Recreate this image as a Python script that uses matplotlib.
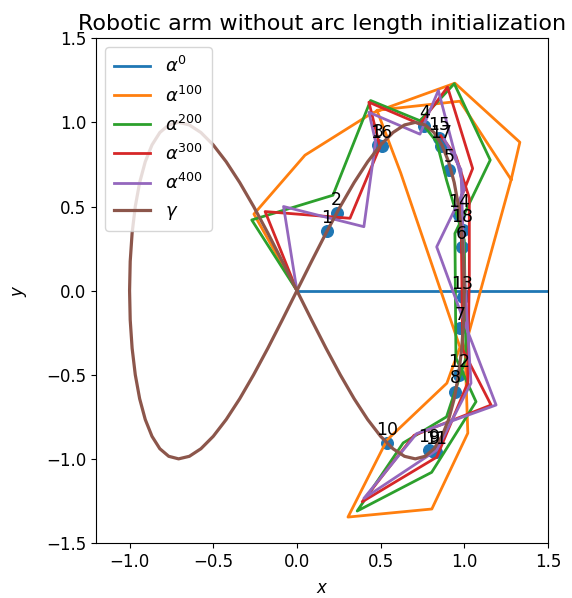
import matplotlib
matplotlib.use("Agg")
import matplotlib.pyplot as plt

# arm iterates (joint positions)
a0_x = [0.0, 2.0]
a0_y = [0.0, 0.0]

a100_x = [0.0, -0.257, 0.048, 0.448, 0.944, 1.332, 1.28, 1.004, 1.021, 0.806, 0.305, 0.538, 0.896, 0.974, 0.62, 0.478, 0.974, 1.28]
a100_y = [0.0, 0.455, 0.805, 1.055, 1.233, 0.882, 0.66, -0.336, -0.847, -1.298, -1.346, -0.888, -0.55, -0.336, 0.70, 1.072, 1.126, 0.66]

a200_x = [0.0, -0.27, 0.215, 0.44, 0.735, 0.94, 1.155, 0.944, 0.95, 1.07, 0.805, 0.36, 0.635, 0.894, 1.01, 1.0, 0.894, 0.835, 0.735]
a200_y = [0.0, 0.42, 0.567, 1.13, 1.01, 1.23, 0.776, 0.34, -0.40, -0.66, -1.08, -1.31, -0.905, -0.75, -0.40, 0.30, 0.656, 0.884, 1.01]

a300_x = [0.0, -0.19, 0.317, 0.496, 0.43, 0.735, 0.90, 1.05, 0.98, 0.99, 1.16, 0.70, 0.39, 0.835, 1.02, 1.03, 1.03, 0.95, 0.86]
a300_y = [0.0, 0.47, 0.43, 0.855, 1.12, 0.99, 1.21, 0.726, 0.55, -0.35, -0.68, -0.86, -1.255, -0.99, -0.55, 0.10, 0.55, 0.80, 0.92]

a400_x = [0.0, -0.08, 0.40, 0.47, 0.43, 0.735, 0.845, 1.0, 0.835, 1.01, 1.19, 0.715, 0.40, 0.835, 1.04, 1.0, 0.98, 0.88]
a400_y = [0.0, 0.50, 0.38, 0.885, 1.06, 0.93, 1.19, 0.60, 0.26, -0.215, -0.68, -0.85, -1.235, -0.948, -0.55, 0.10, 0.72, 0.90]

# target curve gamma (figure eight), sampled every 5 degrees
gamma_x = [1.0, 0.9962, 0.9848, 0.9659, 0.9397, 0.9063, 0.866, 0.8192, 0.766, 0.7071, 0.6428, 0.5736,
           0.5, 0.4226, 0.342, 0.2588, 0.1736, 0.0872,
           0.0, -0.0872, -0.1736, -0.2588, -0.342, -0.4226, -0.5, -0.5736, -0.6428, -0.7071, -0.766, -0.8192,
           -0.866, -0.9063, -0.9397, -0.9659, -0.9848, -0.9962,
           -1.0, -0.9962, -0.9848, -0.9659, -0.9397, -0.9063, -0.866, -0.8192, -0.766, -0.7071, -0.6428, -0.5736,
           -0.5, -0.4226, -0.342, -0.2588, -0.1736, -0.0872,
           0.0, 0.0872, 0.1736, 0.2588, 0.342, 0.4226, 0.5, 0.5736, 0.6428, 0.7071, 0.766, 0.8192,
           0.866, 0.9063, 0.9397, 0.9659, 0.9848, 0.9962, 1.0]
gamma_y = [0.0, 0.1736, 0.342, 0.5, 0.6428, 0.766, 0.866, 0.9397, 0.9848, 1.0, 0.9848, 0.9397,
           0.866, 0.766, 0.6428, 0.5, 0.342, 0.1736,
           0.0, -0.1736, -0.342, -0.5, -0.6428, -0.766, -0.866, -0.9397, -0.9848, -1.0, -0.9848, -0.9397,
           -0.866, -0.766, -0.6428, -0.5, -0.342, -0.1736,
           0.0, 0.1736, 0.342, 0.5, 0.6428, 0.766, 0.866, 0.9397, 0.9848, 1.0, 0.9848, 0.9397,
           0.866, 0.766, 0.6428, 0.5, 0.342, 0.1736,
           0.0, -0.1736, -0.342, -0.5, -0.6428, -0.766, -0.866, -0.9397, -0.9848, -1.0, -0.9848, -0.9397,
           -0.866, -0.766, -0.6428, -0.5, -0.342, -0.1736, 0.0]

# numbered target points
pt_labels = [str(i) for i in range(1, 20)]
pt_x = [0.18, 0.237, 0.484, 0.76, 0.91, 0.984, 0.974, 0.944, 0.82, 0.54, 0.83, 0.97, 0.99, 0.97, 0.85, 0.506, 0.863, 0.99, 0.79]
pt_y = [0.354, 0.459, 0.865, 0.98, 0.715, 0.26, -0.225, -0.60, -0.96, -0.908, -0.96, -0.50, -0.04, 0.45, 0.906, 0.86, 0.858, 0.36, -0.95]

fig = plt.figure(figsize=(5.72, 5.98), dpi=100)
ax = fig.add_axes([0.168, 0.092, 0.79, 0.844])

ax.scatter(pt_x, pt_y, s=70, color="C0")
for lab, x, y in zip(pt_labels, pt_x, pt_y):
    ax.annotate(lab, (x, y), xytext=(0, 3), textcoords="offset points",
                ha="center", va="bottom", fontsize=12.5)

ax.plot(a0_x, a0_y, lw=2, label=r"$\alpha^{0}$")
ax.plot(a100_x, a100_y, lw=2, label=r"$\alpha^{100}$")
ax.plot(a200_x, a200_y, lw=2, label=r"$\alpha^{200}$")
ax.plot(a300_x, a300_y, lw=2, label=r"$\alpha^{300}$")
ax.plot(a400_x, a400_y, lw=2, label=r"$\alpha^{400}$")
ax.plot(gamma_x, gamma_y, lw=2.3, label=r"$\gamma$")

ax.set_xlim(-1.2, 1.5)
ax.set_ylim(-1.5, 1.5)
ax.set_xticks([-1.0, -0.5, 0.0, 0.5, 1.0, 1.5])
ax.set_yticks([-1.5, -1.0, -0.5, 0.0, 0.5, 1.0, 1.5])
ax.tick_params(labelsize=12)
ax.set_xlabel(r"$x$", fontsize=12, labelpad=6)
ax.set_ylabel(r"$y$", fontsize=12, labelpad=12)
ax.set_title("Robotic arm without arc length initialization", fontsize=16)
ax.legend(loc="upper left", fontsize=13, borderpad=0.5)

fig.savefig("out.png", dpi=100)
